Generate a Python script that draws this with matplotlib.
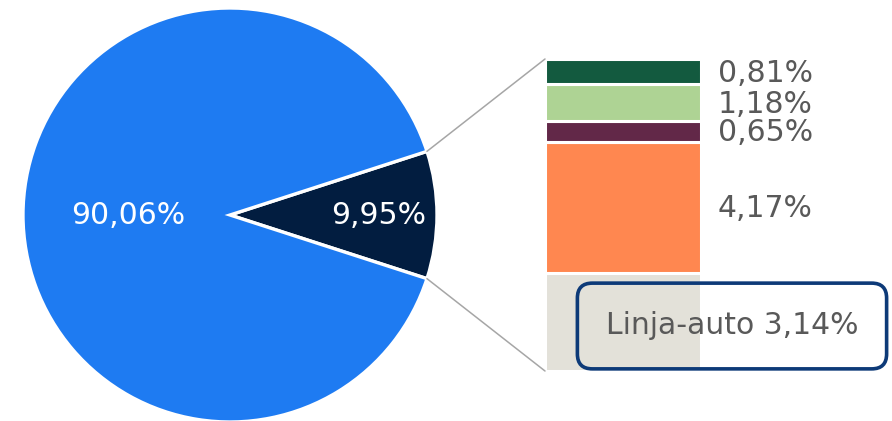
import numpy as np
import matplotlib
matplotlib.use("Agg")
from matplotlib import pyplot as plt
from matplotlib.patches import ConnectionPatch

# pie data
pie_labels = ["Muut", "Joukkoliikenne"]
pie_values = [90.06, 9.95]
pie_texts = ["90,06%", "9,95%"]
pie_colors = ["#1E7BF2", "#021D40"]

# breakdown of the small slice, bottom to top
bar_names = ["Linja-auto", "Muu", "Raitiovaunu", "Metro", "Juna"]
bar_values = [3.14, 4.17, 0.65, 1.18, 0.81]
bar_texts = ["3,14%", "4,17%", "0,65%", "1,18%", "0,81%"]
bar_colors = ["#E3E1D9", "#FF8750", "#622848", "#AED394", "#135A3F"]

W, H = 892, 421
fig = plt.figure(figsize=(W / 100, H / 100), dpi=100)
plt.rcParams["font.family"] = ["DejaVu Sans"]
fs = 21.5
label_color = "#595959"

# pie axes (pixel geometry -> figure fraction)
cx, cy, r = 230, 215, 207
ax_pie = fig.add_axes([(cx - r) / W, (H - cy - r) / H, 2 * r / W, 2 * r / H])
small = pie_values[1] / sum(pie_values) * 360
wedges, _ = ax_pie.pie(pie_values[::-1], colors=pie_colors[::-1],
                       startangle=-small / 2, counterclock=True,
                       wedgeprops=dict(edgecolor="white", linewidth=2.4))
ax_pie.set_xlim(-1, 1)
ax_pie.set_ylim(-1, 1)
ax_pie.set_aspect("equal")
ax_pie.axis("off")

ax_pie.text(-0.49, 0, pie_texts[0], color="white", fontsize=fs,
            ha="center", va="center")
ax_pie.text(0.72, 0, pie_texts[1], color="white", fontsize=fs,
            ha="center", va="center")

# stacked bar axes
bx0, bx1, by0, by1 = 545, 701, 59, 371
ax_bar = fig.add_axes([bx0 / W, (H - by1) / H, (bx1 - bx0) / W, (by1 - by0) / H])
bottom = 0
for name, val, txt, col in zip(bar_names, bar_values, bar_texts, bar_colors):
    ax_bar.bar(0, val, width=1, bottom=bottom, color=col,
               edgecolor="white", linewidth=2.2)
    if name != "Linja-auto":
        ax_bar.annotate(txt, xy=(0.5, bottom + val / 2), xytext=(12, -1),
                        textcoords="offset points", color=label_color,
                        fontsize=fs, ha="left", va="center",
                        annotation_clip=False)
    bottom += val
ax_bar.set_xlim(-0.5, 0.5)
ax_bar.set_ylim(0, bottom)
ax_bar.axis("off")

# highlighted label for the bottom segment
fig.text(732 / W, (H - 326) / H, bar_names[0] + " " + bar_texts[0],
         color=label_color, fontsize=fs, ha="center", va="center",
         bbox=dict(boxstyle="round,pad=0.95,rounding_size=0.5",
                   fc="none", ec="#0D3A78", lw=2.6))

# connector lines from slice edge to bar
theta = np.deg2rad(small / 2)
for sign, yb in [(1, bottom), (-1, 0)]:
    con = ConnectionPatch(xyA=(np.cos(theta), sign * np.sin(theta)), coordsA=ax_pie.transData,
                          xyB=(-0.5, yb), coordsB=ax_bar.transData,
                          color="#A6A6A6", linewidth=1.1)
    fig.add_artist(con)

fig.savefig("out.png", dpi=100)
